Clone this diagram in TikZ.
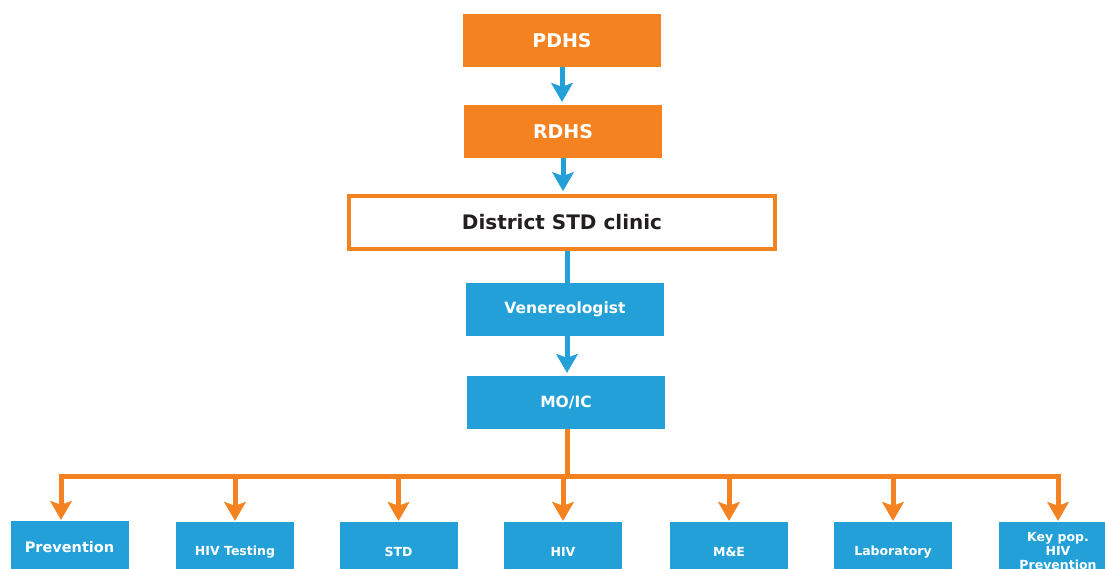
\documentclass[tikz,border=0pt]{standalone}
\usepackage{fontspec}
\setmainfont{DejaVu Sans}
\usetikzlibrary{arrows.meta}
\definecolor{org}{RGB}{245,130,32}
\definecolor{blu}{RGB}{35,160,216}
\begin{document}
\begin{tikzpicture}[x=1pt,y=-1pt,
  obox/.style={fill=org, text=white, font=\bfseries\fontsize{19}{22}\selectfont, minimum width=198pt, minimum height=53pt, inner sep=0pt},
  bbox/.style={fill=blu, text=white, font=\bfseries\fontsize{15.5}{18}\selectfont, minimum width=198pt, minimum height=53pt, inner sep=0pt},
  lbox/.style={fill=blu, text=white, font=\bfseries\fontsize{12.5}{14}\selectfont, minimum width=118pt, minimum height=60pt, inner sep=0pt, align=center},
  barr/.style={draw=blu, line width=5pt, -{Stealth[length=19pt, width=22pt, inset=4pt, line width=0.5pt]}, shorten >=3pt},
  bline/.style={draw=blu, line width=5pt},
  oline/.style={draw=org, line width=5pt},
  oarr/.style={draw=org, line width=5pt, -{Stealth[length=19pt, width=22pt, inset=4pt, line width=0.5pt]}, shorten >=1pt},
]
\useasboundingbox (0,0) rectangle (1105,569);
\clip (0,0) rectangle (1105,569);
\fill[white] (0,0) rectangle (1105,569);

\node[obox] (pdhs) at (562,40.5) {PDHS};
\node[obox] (rdhs) at (563,131.5) {RDHS};
\node[draw=org, line width=4pt, fill=white, minimum width=426pt, minimum height=53pt, inner sep=0pt,
      font=\bfseries\fontsize{20}{24}\selectfont, text={rgb,255:red,35;green,31;blue,32}] (dist) at (562,222.5) {District STD clinic};
\node[bbox] (ven) at (565,309.5) {Venereologist};
\node[bbox] (mo) at (566,402.5) {MO/IC};

\node[lbox, minimum height=52pt, font=\bfseries\fontsize{14.5}{16}\selectfont] (p1) at (69.5,547) {Prevention};
\node[lbox] (p2) at (235,552) {HIV Testing};
\node[lbox] (p3) at (398.5,552) {STD};
\node[lbox] (p4) at (563,552) {HIV};
\node[lbox] (p5) at (729,552) {M\&E};
\node[lbox] (p6) at (893,552) {Laboratory};
\node[lbox, minimum height=58pt, font=\bfseries\fontsize{12.5}{14}\selectfont] (p7) at (1058,551) {Key pop.\\HIV\\Prevention};

\draw[barr] (pdhs.south) -- (pdhs.south |- rdhs.north);
\draw[barr] (rdhs.south) -- (rdhs.south |- dist.north);
\draw[bline] ([xshift=2pt]ven.north |- dist.south) -- ([xshift=2pt]ven.north);
\draw[barr] ([xshift=2pt]ven.south) -- ([xshift=2pt]ven.south |- mo.north);

\coordinate (j) at (567,476);
\coordinate (a1) at (61,476);
\draw[oline] (mo.south -| j) -- (j);
\draw[oline] ([xshift=-2.5pt]a1) -- ([xshift=2.5pt]j -| p7.north);
\draw[oarr] (a1) -- (a1 |- p1.north);
\draw[oarr] (j -| p2.north) -- (p2.north);
\draw[oarr] (j -| p3.north) -- (p3.north);
\draw[oarr] (j -| p4.north) -- (p4.north);
\draw[oarr] (j -| p5.north) -- (p5.north);
\draw[oarr] (j -| p6.north) -- (p6.north);
\draw[oarr] (j -| p7.north) -- (p7.north);
\end{tikzpicture}
\end{document}
